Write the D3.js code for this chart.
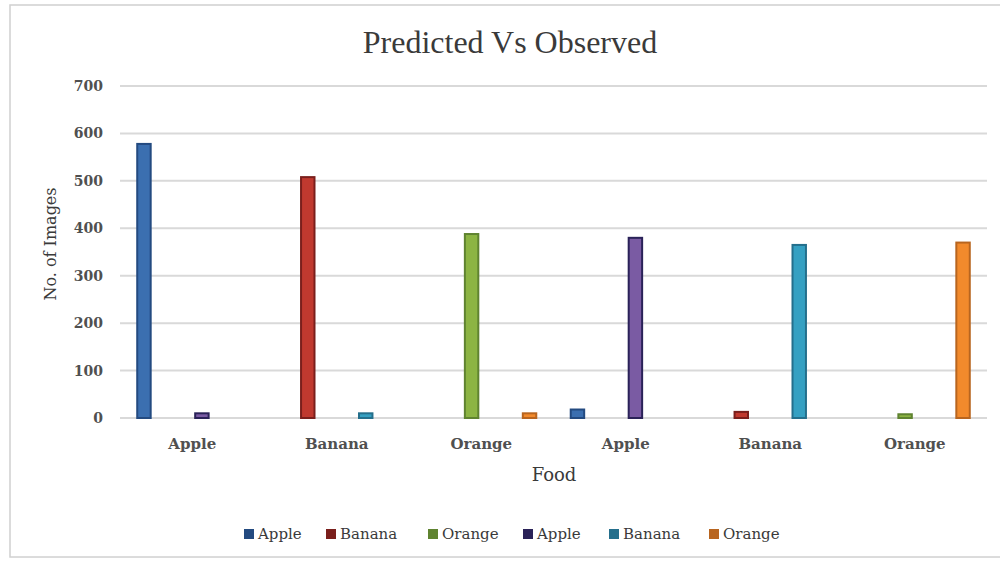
<!DOCTYPE html>
<html lang="en">
<head>
    <meta charset="UTF-8">
    <title>Predicted Vs Observed</title>
    <script src="https://d3js.org/d3.v7.min.js"></script>
    <style>
        body { margin: 0; background: #fff; }
        .tick text { font-family: "DejaVu Serif", serif; font-weight: bold; fill: #505050; }
    </style>
</head>
<body>
    <svg width="1000" height="562"></svg>
    <script>
        // data
        const categories = ["Apple", "Banana", "Orange", "Apple", "Banana", "Orange"];
        const seriesNames = ["Apple", "Banana", "Orange", "Apple", "Banana", "Orange"];
        const values = [
            [580, 0, 0, 20, 0, 0],
            [0, 510, 0, 0, 15, 0],
            [0, 0, 390, 0, 0, 10],
            [12, 0, 0, 382, 0, 0],
            [0, 12, 0, 0, 367, 0],
            [0, 0, 12, 0, 0, 372]
        ];
        const yTicks = [0, 100, 200, 300, 400, 500, 600, 700];
        const fills = ["#3b6fb0", "#c0392f", "#8cb443", "#7a5ba3", "#35a0c2", "#f28a2c"];
        const strokes = ["#234a80", "#7a1f1c", "#5f8330", "#2a2258", "#246f8c", "#b8651f"];

        const svg = d3.select("svg"),
            width = +svg.attr("width"),
            height = +svg.attr("height");

        const margin = {top: 86, right: 13, bottom: 144, left: 120};

        // chart frame
        svg.append("rect")
            .attr("x", 10).attr("y", 5)
            .attr("width", 1000).attr("height", 552)
            .attr("fill", "#fff")
            .attr("stroke", "#d0d0d0")
            .attr("stroke-width", 1.5);

        const x0 = d3.scaleBand()
            .domain(d3.range(categories.length))
            .range([margin.left, width - margin.right]);

        const x1 = d3.scaleBand()
            .domain(d3.range(seriesNames.length))
            .range([0, x0.bandwidth()])
            .paddingInner(0.2)
            .paddingOuter(0.84);

        const y = d3.scaleLinear()
            .domain([0, 700])
            .range([height - margin.bottom, margin.top]);

        // gridlines
        svg.append("g")
            .selectAll("line")
            .data(yTicks)
            .join("line")
            .attr("x1", margin.left)
            .attr("x2", width - margin.right)
            .attr("y1", d => y(d))
            .attr("y2", d => y(d))
            .attr("stroke", "#d9d9d9")
            .attr("stroke-width", 2);

        // y axis
        const yAxis = svg.append("g")
            .attr("transform", `translate(${margin.left},0)`)
            .call(d3.axisLeft(y).tickValues(yTicks).tickSize(0).tickPadding(17));
        yAxis.select(".domain").remove();
        yAxis.selectAll("text").attr("font-size", 14);

        // x axis labels
        const xAxis = svg.append("g")
            .attr("transform", `translate(0,${height - margin.bottom})`)
            .call(d3.axisBottom(x0).tickFormat(i => categories[i]).tickSize(0).tickPadding(20));
        xAxis.select(".domain").remove();
        xAxis.selectAll("text").attr("font-size", 15);

        // bars
        const groups = svg.append("g")
            .selectAll("g")
            .data(values)
            .join("g")
            .attr("fill", (d, i) => fills[i])
            .attr("stroke", (d, i) => strokes[i]);

        groups.selectAll("rect")
            .data((d, s) => d.map((v, c) => ({s, c, v})).filter(e => e.v > 0))
            .join("rect")
            .attr("x", d => x0(d.c) + x1(d.s) + 1)
            .attr("width", x1.bandwidth() - 2)
            .attr("y", d => y(d.v) + 1)
            .attr("height", d => Math.max(y(0) - y(d.v) - 1, 2))
            .attr("stroke-width", 2);

        // title
        svg.append("text")
            .attr("x", 510)
            .attr("y", 53)
            .attr("text-anchor", "middle")
            .attr("font-family", "Liberation Serif, serif")
            .attr("font-size", 32)
            .attr("fill", "#3a3a3a")
            .text("Predicted Vs Observed");

        // axis titles
        svg.append("text")
            .attr("x", 554)
            .attr("y", 481)
            .attr("text-anchor", "middle")
            .attr("font-family", "DejaVu Serif, serif")
            .attr("font-size", 18)
            .attr("fill", "#3a3a3a")
            .text("Food");

        svg.append("text")
            .attr("transform", "translate(56,244) rotate(-90)")
            .attr("text-anchor", "middle")
            .attr("font-family", "DejaVu Serif, serif")
            .attr("font-size", 16)
            .attr("fill", "#3a3a3a")
            .text("No. of Images");

        // legend
        const legendX = [244, 326, 428, 523, 609, 709];
        const legend = svg.append("g")
            .selectAll("g")
            .data(seriesNames)
            .join("g")
            .attr("transform", (d, i) => `translate(${legendX[i]},534)`);

        legend.append("rect")
            .attr("x", 0).attr("y", -5)
            .attr("width", 10).attr("height", 10)
            .attr("fill", (d, i) => strokes[i]);

        legend.append("text")
            .attr("x", 14)
            .attr("dy", "0.35em")
            .attr("font-family", "DejaVu Serif, serif")
            .attr("font-size", 15)
            .attr("fill", "#3a3a3a")
            .text(d => d);
    </script>
</body>
</html>
